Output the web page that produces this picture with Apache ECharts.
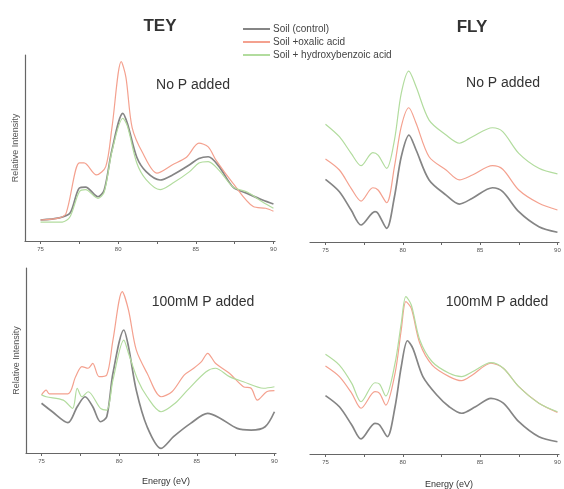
<!DOCTYPE html>
<html>
<head>
<meta charset="utf-8">
<script src="https://cdn.jsdelivr.net/npm/echarts@6/dist/echarts.min.js"></script>
<style>
  html, body { margin: 0; padding: 0; background: #fff; }
  #chart { width: 564px; height: 489px; }
</style>
</head>
<body>
<div id="chart"></div>
<script>
// series names
var names = ['Soil (control)', 'Soil +oxalic acid', 'Soil + hydroxybenzoic acid'];
var majorTicks = [75, 80, 85, 90];
var minorTicks = [75, 77.5, 80, 82.5, 85, 87.5, 90];

// TEY, no P added  [energy eV, relative intensity]
var teyNoP_control = [[75,11.3],[76.2,12.4],[76.9,15],[77.5,28.5],[77.9,29],[78.7,23.8],[79.1,27.4],[79.6,49],[80.3,68.6],[80.6,63],[81.2,45],[81.8,37.3],[82.7,32.8],[83.5,35.5],[84.6,41],[85.2,44.4],[85.8,45.3],[86.5,40],[87.4,29],[88.3,25.6],[89.3,22],[90,19.9]];
var teyNoP_oxalic = [[75,11.3],[76.2,12.4],[76.65,15],[77.5,42],[77.8,42],[78.6,35.5],[79.2,40],[79.6,61],[80.2,96.4],[80.5,88],[80.9,61],[81.6,47],[82.5,36.5],[83.5,41],[84.4,45],[85.2,52.6],[85.8,50.6],[86.3,43.5],[87.4,31],[88.7,18.5],[89.5,17.6],[90,16]];
var teyNoP_hydroxy = [[75,10.2],[76.4,10.2],[76.9,13],[77.5,26.5],[77.9,27.6],[78.7,22.9],[79.1,26.3],[79.6,48],[80.3,66],[80.6,61.6],[81.2,41.9],[81.8,33],[82.7,27.6],[83.5,31],[84.6,37.3],[85.2,41.9],[85.8,42.7],[86.5,38],[87.4,29],[88.3,26.3],[89.3,21],[90,17.6]];

// FLY, no P added
var flyNoP_control = [[75,33.5],[75.9,26.9],[76.66,17.1],[77.3,9.1],[78.2,16.2],[78.4,15.3],[78.96,7.3],[79.46,24.2],[79.9,45.6],[80.4,57.2],[80.86,49.2],[81.7,33.2],[82.8,25.1],[83.66,20.3],[84.5,23.4],[85.8,29],[86.46,26.9],[87.5,16.2],[88.8,8.2],[90,5.2]];
var flyNoP_oxalic = [[75,44.4],[75.9,38.5],[76.66,28.7],[77.3,21.9],[78.06,29],[78.4,27.8],[78.96,21],[79.46,40.3],[79.9,61.7],[80.39,71.8],[80.86,63.5],[81.7,45.6],[82.8,38.5],[83.66,33.2],[84.5,35.8],[85.8,40.8],[86.46,38.9],[87.5,27.8],[88.8,20.7],[90,17.1]];
var flyNoP_hydroxy = [[75,63],[75.9,56.3],[76.66,47.4],[77.3,40.8],[78.06,47.8],[78.4,46.5],[78.96,39.4],[79.46,54.5],[79.9,79.5],[80.39,91.4],[80.86,83],[81.7,65.2],[82.8,57.2],[83.66,52.8],[84.5,56.3],[85.8,61.1],[86.46,59],[87.5,47.4],[88.8,39.4],[90,36.4]];

// TEY, 100mM P added
var tey100_control = [[75,26.9],[75.7,22.3],[76.7,16.4],[77.3,25],[77.8,30.4],[78.3,25],[78.8,16.9],[79.2,19.6],[79.6,43.1],[80.3,66.5],[80.6,57.5],[81.1,34],[81.8,14.2],[82.7,2.5],[83.5,8.8],[84.6,16],[85.7,21.4],[86.5,18.8],[87.6,13.3],[88.5,12.4],[89.4,14.2],[90,22.3]];
var tey100_oxalic = [[75,31.4],[75.3,34],[75.5,32],[76.7,32],[77.2,41.3],[77.6,46.7],[78,45.8],[78.3,48.5],[78.7,41.3],[79.2,42.2],[79.6,61],[80.2,87.2],[80.6,77.3],[81.1,55.7],[81.8,43.1],[82.7,30.4],[83.4,33.1],[84.2,42.2],[84.8,45.8],[85.3,49.4],[85.7,53.9],[86.2,48.5],[87.1,43.1],[88,35.8],[88.5,35],[88.9,28.6],[89.5,33.1],[90,33.7]];
var tey100_hydroxy = [[75,31.4],[75.3,30.4],[76.4,28.6],[77,24.1],[77.3,35],[77.6,30.4],[78,33.1],[78.8,24.1],[79.2,23.2],[79.6,39.5],[80.3,61],[80.6,53.9],[81.2,39.5],[81.8,30.4],[82.7,22.3],[83.6,26.9],[84.4,34],[85.6,43.9],[86.2,45.8],[87.1,41.3],[88,38.5],[89.3,35],[90,35.8]];

// FLY, 100mM P added
var fly100_control = [[75,31.4],[75.9,25.4],[76.7,15.6],[77.3,8.1],[78.2,16.5],[78.5,15.6],[79,9.3],[79.5,25.4],[79.9,46.9],[80.3,60.9],[80.65,56.8],[81.3,41.6],[82.2,31.7],[83,25.4],[83.8,21.9],[84.7,25.4],[85.7,29.9],[86.5,27.3],[87.5,17.4],[88.8,9.3],[90,6.6]];
var fly100_oxalic = [[75,47.3],[75.9,41.6],[76.7,32.6],[77.3,24.6],[78.2,33.5],[78.5,32.6],[78.9,26.3],[79.5,43.4],[79.9,66.7],[80.2,81.9],[80.55,78.3],[81.1,59.5],[81.9,47.8],[83,41.6],[83.8,39.4],[84.5,42.5],[85.7,48.8],[86.5,46.1],[87.5,36.2],[88.8,27.3],[90,22.4]];
var fly100_hydroxy = [[75,53.6],[75.9,47.8],[76.7,38],[77.3,28.1],[78.2,38.3],[78.5,37.6],[78.9,31.2],[79.5,48.8],[79.9,70.3],[80.2,84.6],[80.55,80.1],[81.1,61.3],[81.9,49.6],[83,43.4],[83.8,41.6],[84.5,44.2],[85.7,49.1],[86.5,46.1],[87.5,36.2],[88.8,27.3],[90,22.7]];

var colors = ['#858585', '#f4a18f', '#b2dc9e'];
var font = 'Liberation Sans';

var chartDom = document.getElementById('chart');
var myChart = echarts.init(chartDom);
var option;

function makeX(idx) {
    return {
        type: 'value', gridIndex: idx, min: 74, max: 90.1,
        axisLine: { show: true, lineStyle: { color: '#666', width: 1.2 } },
        axisTick: { show: true, length: 3, customValues: minorTicks, lineStyle: { color: '#666' } },
        axisLabel: { fontSize: 6, color: '#555', margin: 5, customValues: majorTicks, fontFamily: font },
        splitLine: { show: false }
    };
}

function makeY(idx, showLine) {
    return {
        type: 'value', gridIndex: idx, min: 0, max: 100,
        name: showLine ? 'Relative Intensity' : '',
        nameLocation: 'middle', nameGap: 5,
        nameTextStyle: { fontSize: 9, color: '#555', fontFamily: font },
        axisLine: { show: showLine, lineStyle: { color: '#666', width: 1.2 } },
        axisTick: { show: false },
        axisLabel: { show: false },
        splitLine: { show: false }
    };
}

function makeSeries(idx, arr) {
    return arr.map(function (d, i) {
        return {
            name: names[i], type: 'line', xAxisIndex: idx, yAxisIndex: idx,
            data: d, showSymbol: false, smooth: 0.3,
            lineStyle: { color: colors[i], width: i == 0 ? 1.7 : 1.2 },
            itemStyle: { color: colors[i] }
        };
    });
}

var series = [].concat(
    makeSeries(0, [teyNoP_control, teyNoP_oxalic, teyNoP_hydroxy]),
    makeSeries(1, [flyNoP_control, flyNoP_oxalic, flyNoP_hydroxy]),
    makeSeries(2, [tey100_control, tey100_oxalic, tey100_hydroxy]),
    makeSeries(3, [fly100_control, fly100_oxalic, fly100_hydroxy])
);

function label(text, x, y, size) {
    return { type: 'text', x: x, y: y, style: { text: text, fontSize: size, fill: '#333', fontFamily: font, align: 'center', verticalAlign: 'middle' } };
}

option = {
    animation: false,
    textStyle: { fontFamily: font },
    title: [
        { text: 'TEY', left: 155, top: 13, textAlign: 'center', textStyle: { fontSize: 17, fontWeight: 'bold', color: '#333' } },
        { text: 'FLY', left: 467, top: 14, textAlign: 'center', textStyle: { fontSize: 17, fontWeight: 'bold', color: '#333' } }
    ],
    legend: {
        data: names, orient: 'vertical', left: 238, top: 19,
        icon: 'rect', itemWidth: 27, itemHeight: 2, itemGap: 3,
        textStyle: { fontSize: 10, color: '#444', padding: [0, 0, 0, -2] }
    },
    graphic: [
        label('No P added', 193, 85, 14),
        label('No P added', 503, 83, 14),
        label('100mM P added', 203, 302, 14),
        label('100mM P added', 497, 302, 14),
        label('Energy (eV)', 166, 482, 9),
        label('Energy (eV)', 449, 485, 9)
    ],
    grid: [
        { left: 25, top: 55, width: 250, height: 186 },
        { left: 310, top: 55, width: 249, height: 187 },
        { left: 26, top: 268, width: 250, height: 185 },
        { left: 310, top: 268, width: 249, height: 186 }
    ],
    xAxis: [makeX(0), makeX(1), makeX(2), makeX(3)],
    yAxis: [makeY(0, true), makeY(1, false), makeY(2, true), makeY(3, false)],
    series: series
};

option && myChart.setOption(option);
</script>
</body>
</html>
